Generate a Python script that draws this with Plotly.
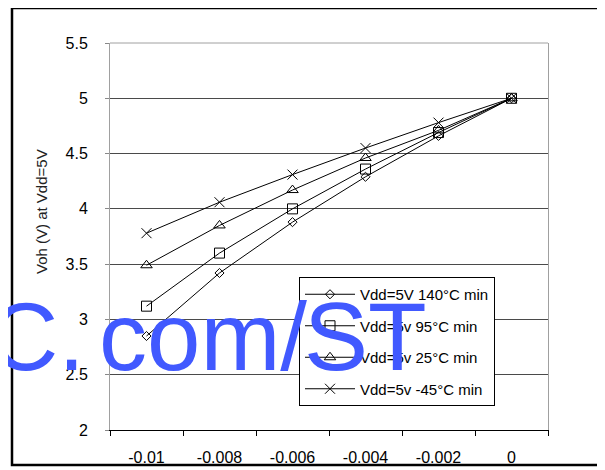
import plotly.graph_objects as go

# ---- data ----
categories = ["-0.01", "-0.008", "-0.006", "-0.004", "-0.002", "0"]
series_names = ["Vdd=5V 140°C min", "Vdd=5v 95°C min", "Vdd=5v 25°C min", "Vdd=5v -45°C min"]
voh_140c = [2.85, 3.42, 3.88, 4.29, 4.66, 5.0]
voh_95c = [3.12, 3.60, 4.00, 4.36, 4.69, 5.0]
voh_25c = [3.49, 3.85, 4.17, 4.46, 4.71, 5.0]
voh_m45c = [3.78, 4.06, 4.31, 4.55, 4.78, 5.0]
y_ticks = [2, 2.5, 3, 3.5, 4, 4.5, 5, 5.5]
y_tick_labels = ["2", "2.5", "3", "3.5", "4", "4.5", "5", "5.5"]
watermark_parts = ["C.", "com/", "ST"]

FONT = "Liberation Sans, Arial, sans-serif"

fig = go.Figure()
styles = [
    dict(symbol="diamond-open", size=7),
    dict(symbol="square-open", size=10),
    dict(symbol="triangle-up-open", size=10),
    dict(symbol="x-thin-open", size=10),
]
for i, (name, vals, st) in enumerate(zip(series_names,
                                         [voh_140c, voh_95c, voh_25c, voh_m45c],
                                         styles)):
    fig.add_trace(go.Scatter(
        x=categories, y=vals, name=name, mode="lines+markers",
        legendgroup=f"g{i}",
        line=dict(color="black", width=1),
        marker=dict(symbol=st["symbol"], size=st["size"], color="black",
                    line=dict(color="black", width=1)),
    ))

# page has an 8px body margin; figure coordinates = page coordinates - 8
OFF = 8
W, H = 605 - OFF, 470 - OFF
L, R, T, B = 110 - OFF, 57, 43 - OFF, 40
pw, ph = W - L - R, H - T - B

def px(x_page):
    return (x_page - OFF - L) / pw

def py(y_page):
    return (H - B - (y_page - OFF)) / ph

wm_x = [-13, 97, 302]
annotations = [
    dict(text="Voh (V) at Vdd=5V", xref="paper", yref="paper",
         x=px(42), y=py(212), xanchor="center", yanchor="middle",
         textangle=-90, showarrow=False,
         font=dict(family=FONT, size=15, color="#222222")),
]
for part, xp in zip(watermark_parts, wm_x):
    annotations.append(dict(
        text=part, xref="paper", yref="paper",
        x=px(xp), y=py(336), xanchor="left", yanchor="middle",
        showarrow=False,
        font=dict(family=FONT, size=96, color="#4159FF")))

fig.update_layout(
    width=W, height=H,
    margin=dict(l=L, r=R, t=T, b=B),
    paper_bgcolor="white", plot_bgcolor="white",
    font=dict(family=FONT, color="black", size=15),
    showlegend=True,
    legend=dict(
        x=px(299), y=py(277), xanchor="left", yanchor="top",
        bordercolor="black", borderwidth=1, bgcolor="white",
        font=dict(family=FONT, size=15, color="black"),
        itemwidth=50, tracegroupgap=9, traceorder="grouped",
    ),
    xaxis=dict(
        type="category", categoryorder="array", categoryarray=categories,
        range=[-0.5, 5.5], tickson="boundaries",
        ticks="outside", ticklen=5, tickcolor="black",
        showline=True, linecolor="black", linewidth=1,
        showgrid=False, zeroline=False, automargin=False,
        ticklabelstandoff=13,
        tickfont=dict(family=FONT, size=16, color="black"),
    ),
    yaxis=dict(
        range=[2, 5.5], tickvals=y_ticks, ticktext=y_tick_labels,
        ticks="outside", ticklen=4, tickcolor="#888888",
        showline=True, linecolor="#a0a0a0", linewidth=1, mirror=True,
        showgrid=True, gridcolor="#4a4a4a", gridwidth=1,
        zeroline=False, automargin=False,
        ticklabelstandoff=14,
        tickfont=dict(family=FONT, size=16, color="black"),
    ),
    shapes=[
        dict(type="line", xref="paper", yref="paper", x0=0, x1=1, y0=1, y1=1,
             line=dict(color="#a0a0a0", width=1)),
        dict(type="rect", xref="paper", yref="paper",
             x0=px(12), x1=px(599), y0=py(465), y1=py(8),
             line=dict(color="black", width=2.5), layer="above"),
    ],
    annotations=annotations,
)

fig.write_html("out.html")
